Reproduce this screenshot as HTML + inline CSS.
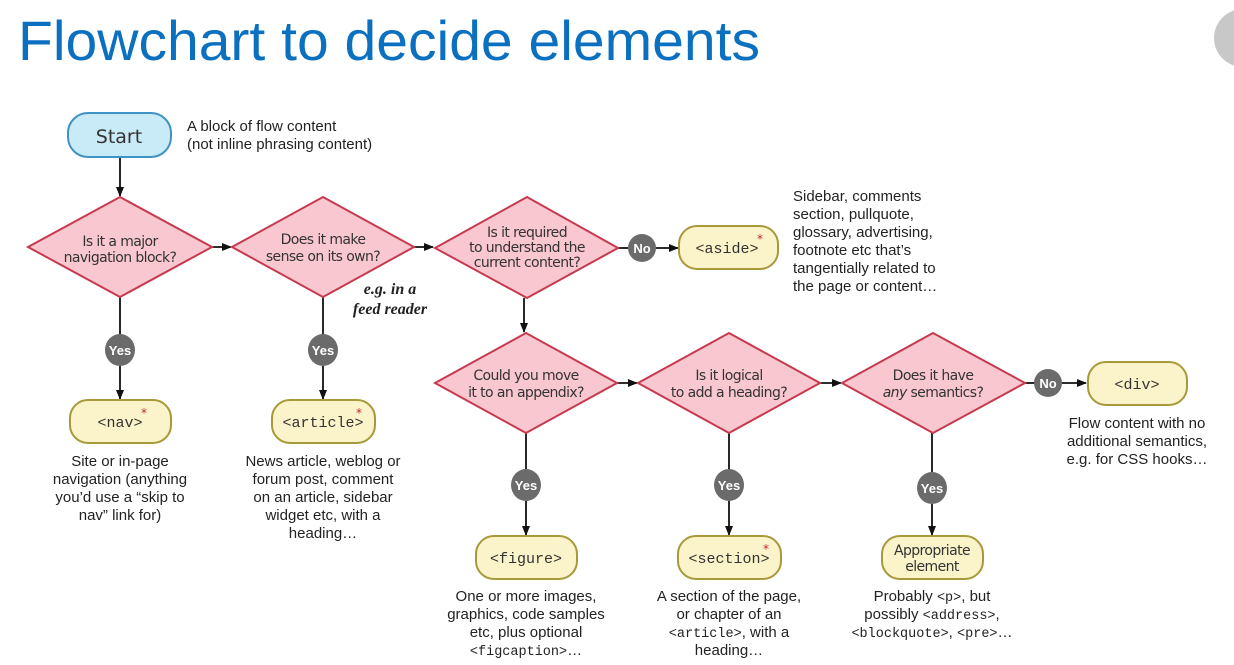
<!DOCTYPE html>
<html><head><meta charset="utf-8"><style>
html,body{margin:0;padding:0;background:#fff;width:1234px;height:665px;overflow:hidden}
svg{display:block}
.q{font-family:"DejaVu Sans","Liberation Sans",sans-serif;font-size:14px;fill:#333;text-anchor:middle;letter-spacing:-0.6px}
.t{font-family:"Liberation Sans",sans-serif;font-size:15px;fill:#222}
.c{text-anchor:middle}
.m{font-family:"Liberation Mono","DejaVu Sans Mono",monospace;font-size:15px;fill:#333;text-anchor:middle}
.y{font-family:"Liberation Sans",sans-serif;font-size:13px;font-weight:bold;fill:#fff;text-anchor:middle}
</style></head><body>
<svg width="1234" height="665" viewBox="0 0 1234 665" xmlns="http://www.w3.org/2000/svg">
<defs>
<marker id="a" markerWidth="10" markerHeight="10" refX="9" refY="5" orient="auto" markerUnits="userSpaceOnUse"><path d="M0,1 L10,5 L0,9 z" fill="#111"/></marker>
</defs>
<text x="18" y="60" font-family="'Liberation Sans',sans-serif" font-size="56" fill="#0b70c0" textLength="742" lengthAdjust="spacingAndGlyphs">Flowchart to decide elements</text>
<circle cx="1243" cy="38" r="29" fill="#c8c8c8"/>

<g stroke="#111" stroke-width="1.8" fill="none" marker-end="url(#a)">
<line x1="120" y1="157" x2="120" y2="196"/>
<line x1="212" y1="247" x2="231" y2="247"/>
<line x1="414" y1="247" x2="433" y2="247"/>
<line x1="656" y1="248" x2="678" y2="248"/>
<line x1="524" y1="298" x2="524" y2="332"/>
<line x1="617" y1="383" x2="637" y2="383"/>
<line x1="820" y1="383" x2="841" y2="383"/>
<line x1="1062" y1="383" x2="1086" y2="383"/>
<line x1="120" y1="366" x2="120" y2="399"/>
<line x1="323" y1="366" x2="323" y2="399"/>
<line x1="526" y1="501" x2="526" y2="535"/>
<line x1="729" y1="501" x2="729" y2="535"/>
<line x1="932" y1="504" x2="932" y2="535"/>
</g>
<g stroke="#111" stroke-width="1.8">
<line x1="120" y1="297" x2="120" y2="335"/>
<line x1="323" y1="297" x2="323" y2="335"/>
<line x1="618" y1="248" x2="628" y2="248"/>
<line x1="526" y1="433" x2="526" y2="470"/>
<line x1="729" y1="433" x2="729" y2="470"/>
<line x1="932" y1="433" x2="932" y2="472"/>
<line x1="1025" y1="383" x2="1035" y2="383"/>
</g>

<rect x="68" y="113" width="103" height="44" rx="20" fill="#c9ebf8" stroke="#3f93c4" stroke-width="2"/>
<text x="119" y="143" font-family="'DejaVu Sans',sans-serif" font-size="19" fill="#333" text-anchor="middle">Start</text>
<text class="t" x="187" y="131">A block of flow content</text>
<text class="t" x="187" y="149">(not inline phrasing content)</text>

<g fill="#f9c7d0" stroke="#c6394f" stroke-width="2">
<polygon points="28,247 120,197 212,247 120,297"/>
<polygon points="232,247 323,197 414,247 323,297"/>
<polygon points="435,248 527,197 618,248 527,298"/>
<polygon points="435,383 526,333 617,383 526,433"/>
<polygon points="638,383 729,333 820,383 729,433"/>
<polygon points="842,383 933,333 1025,383 933,433"/>
</g>
<text class="q" x="120" y="246">Is it a major</text><text class="q" x="120" y="262">navigation block?</text>
<text class="q" x="323" y="244">Does it make</text><text class="q" x="323" y="261">sense on its own?</text>
<text class="q" x="527" y="237">Is it required</text><text class="q" x="527" y="252">to understand the</text><text class="q" x="527" y="267">current content?</text>
<text class="q" x="526" y="380">Could you move</text><text class="q" x="526" y="397">it to an appendix?</text>
<text class="q" x="729" y="380">Is it logical</text><text class="q" x="729" y="397">to add a heading?</text>
<text class="q" x="933" y="380">Does it have</text><text class="q" x="933" y="397"><tspan font-style="italic">any</tspan> semantics?</text>

<text x="390" y="294" font-family="'Liberation Serif',serif" font-style="italic" font-weight="bold" font-size="16" fill="#222" text-anchor="middle">e.g. in a</text>
<text x="390" y="314" font-family="'Liberation Serif',serif" font-style="italic" font-weight="bold" font-size="16" fill="#222" text-anchor="middle">feed reader</text>

<g fill="#6b6b6b">
<circle cx="642" cy="248" r="14"/>
<circle cx="1048" cy="383" r="14"/>
<ellipse cx="120" cy="350" rx="15" ry="16"/>
<ellipse cx="323" cy="350" rx="15" ry="16"/>
<ellipse cx="526" cy="485" rx="15" ry="16"/>
<ellipse cx="729" cy="485" rx="15" ry="16"/>
<ellipse cx="932" cy="488" rx="15" ry="16"/>
</g>
<text class="y" x="642" y="253">No</text>
<text class="y" x="1048" y="388">No</text>
<text class="y" x="120" y="355">Yes</text><text class="y" x="323" y="355">Yes</text>
<text class="y" x="526" y="490">Yes</text><text class="y" x="729" y="490">Yes</text><text class="y" x="932" y="493">Yes</text>

<g fill="#fbf3c9" stroke="#a8993a" stroke-width="2">
<rect x="679" y="226" width="99" height="43" rx="18"/>
<rect x="1088" y="362" width="99" height="43" rx="18"/>
<rect x="70" y="400" width="101" height="43" rx="18"/>
<rect x="272" y="400" width="103" height="43" rx="18"/>
<rect x="476" y="536" width="101" height="43" rx="18"/>
<rect x="678" y="536" width="103" height="43" rx="18"/>
<rect x="882" y="536" width="101" height="43" rx="18"/>
</g>
<text class="m" x="727" y="253">&lt;aside&gt;</text>
<text class="m" x="1137" y="389">&lt;div&gt;</text>
<text class="m" x="120" y="427">&lt;nav&gt;</text>
<text class="m" x="323" y="427">&lt;article&gt;</text>
<text class="m" x="526" y="563">&lt;figure&gt;</text>
<text class="m" x="729" y="563">&lt;section&gt;</text>
<text class="q" x="932" y="555">Appropriate</text><text class="q" x="932" y="571">element</text>
<g fill="#c0283a" font-size="12" font-family="'DejaVu Sans',sans-serif">
<text x="757" y="243">*</text><text x="141" y="417">*</text><text x="356" y="417">*</text><text x="763" y="553">*</text>
</g>

<g class="t">
<text x="793" y="201">Sidebar, comments</text>
<text x="793" y="219">section, pullquote,</text>
<text x="793" y="237">glossary, advertising,</text>
<text x="793" y="255">footnote etc that’s</text>
<text x="793" y="273">tangentially related to</text>
<text x="793" y="291">the page or content…</text>
</g>
<g class="t c">
<text x="1137" y="428">Flow content with no</text>
<text x="1137" y="446">additional semantics,</text>
<text x="1137" y="464">e.g. for CSS hooks…</text>
<text x="120" y="466">Site or in-page</text>
<text x="120" y="484">navigation (anything</text>
<text x="120" y="502">you’d use a “skip to</text>
<text x="120" y="520">nav” link for)</text>
<text x="323" y="466">News article, weblog or</text>
<text x="323" y="484">forum post, comment</text>
<text x="323" y="502">on an article, sidebar</text>
<text x="323" y="520">widget etc, with a</text>
<text x="323" y="538">heading…</text>
<text x="526" y="601">One or more images,</text>
<text x="526" y="619">graphics, code samples</text>
<text x="526" y="637">etc, plus optional</text>
<text x="526" y="655"><tspan font-family="'Liberation Mono',monospace" font-size="13.5">&lt;figcaption&gt;</tspan>…</text>
<text x="729" y="601">A section of the page,</text>
<text x="729" y="619">or chapter of an</text>
<text x="729" y="637"><tspan font-family="'Liberation Mono',monospace" font-size="13.5">&lt;article&gt;</tspan>, with a</text>
<text x="729" y="655">heading…</text>
<text x="932" y="601">Probably <tspan font-family="'Liberation Mono',monospace" font-size="13.5">&lt;p&gt;</tspan>, but</text>
<text x="932" y="619">possibly <tspan font-family="'Liberation Mono',monospace" font-size="13.5">&lt;address&gt;</tspan>,</text>
<text x="932" y="637"><tspan font-family="'Liberation Mono',monospace" font-size="13.5">&lt;blockquote&gt;</tspan>, <tspan font-family="'Liberation Mono',monospace" font-size="13.5">&lt;pre&gt;</tspan>…</text>
</g>
</svg>
</body></html>
